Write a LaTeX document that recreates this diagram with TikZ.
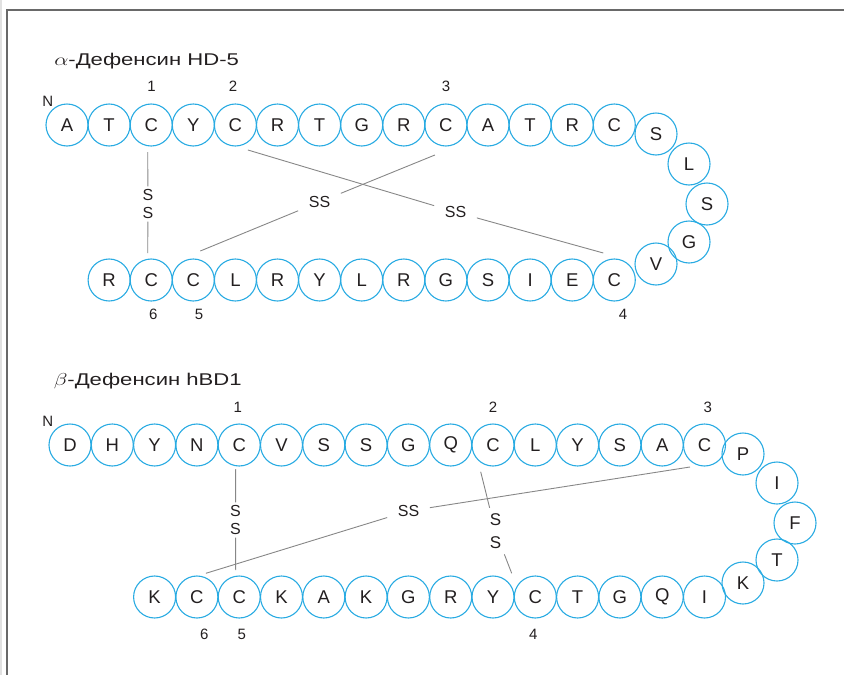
\documentclass[tikz,border=0pt]{standalone}
\usepackage{fontspec}
\setmainfont{Liberation Sans}
\usetikzlibrary{calc}
\definecolor{cyanc}{RGB}{41,171,226}
\definecolor{txt}{RGB}{35,31,32}
\definecolor{bondc}{RGB}{135,135,135}
\definecolor{framec}{RGB}{105,105,105}
\definecolor{stripc}{RGB}{225,225,225}
\begin{document}
\begin{tikzpicture}[x=1pt,y=-1pt,
  res/.style={circle, draw=cyanc, line width=1.1pt, minimum size=42pt, inner sep=0pt,
    font=\fontsize{18.5}{20}\selectfont, text=txt},
  num/.style={font=\fontsize{15}{16}\selectfont, text=txt, inner sep=0pt},
  bond/.style={draw=bondc, line width=0.9pt},
  sslbl/.style={font=\fontsize{16}{18}\selectfont, text=txt, inner xsep=10.5pt, inner ysep=3pt},
  sv/.style={font=\fontsize{16}{18.5}\selectfont, text=txt, align=center, inner xsep=3pt, inner ysep=2.5pt},
  ttl/.style={font=\fontsize{17}{20}\selectfont, text=txt, anchor=base west, inner sep=0pt, xscale=1.3}]
\useasboundingbox (0,0) rectangle (844,675);
% frame
\fill[stripc] (0,0) rectangle (1.8,675);
\draw[framec, line width=1.8pt] (6.8,675) -- (6.8,9.8) -- (844,9.8);

% ---------------- alpha defensin HD-5 ----------------
\node[ttl] (ta) at (54,65.5) {$\alpha$-Дефенсин HD-5};
\foreach \l [count=\i from 0] in {A,T,C,Y,C,R,T,G,R,C,A,T,R,C}
  \node[res] (at\i) at ({67+42.1*\i},125) {\l};
\node[res] (al1) at (656,134) {S};
\node[res] (al2) at (689,164) {L};
\node[res] (al3) at (707,204) {S};
\node[res] (al4) at (689,242) {G};
\node[res] (al5) at (656,264) {V};
\foreach \l [count=\i from 1] in {R,C,C,L,R,Y,L,R,G,S,I,E,C}
  \node[res] (ab\i) at ({67+42.1*\i},280) {\l};

\node[num] (na) at (47.7,101) {N};
\node[num] (na1) at (151.5,86.7) {1};
\node[num] (na2) at (233,86.7) {2};
\node[num] (na3) at (446,86.7) {3};
\node[num] (na6) at (153.3,314.5) {6};
\node[num] (na5) at (199,314.5) {5};
\node[num] (na4) at (623,314.5) {4};

\node[sv] (sa1) at (148,204) {S\\S};
\draw[bond] ($(at2)+(-3.5,27)$) -- (sa1);
\draw[bond] (sa1) -- ($(ab2)+(-3.5,-27)$);

\node[sslbl] (sa2) at (455.5,212) {SS};
\draw[bond] ($(at4)+(12.5,25)$) -- (sa2);
\draw[bond] (sa2) -- ($(ab13)+(-11,-27)$);

\node[sslbl] (sa3) at (319.5,202) {SS};
\draw[bond] ($(at9)+(-11,30)$) -- (sa3);
\draw[bond] (sa3) -- ($(ab3)+(7,-29)$);

% ---------------- beta defensin hBD1 ----------------
\node[ttl] (tb) at (53.5,385) {$\beta$-Дефенсин hBD1};
\foreach \l [count=\i from 0] in {D,H,Y,N,C,V,S,S,G,Q,C,L,Y,S,A,C}
  \node[res] (bt\i) at ({70+42.3*\i},445) {\l};
\node[res] (bl1) at (743,454) {P};
\node[res] (bl2) at (777,483) {I};
\node[res] (bl3) at (795,523) {F};
\node[res] (bl4) at (777,560) {T};
\node[res] (bl5) at (743,583) {K};
\foreach \l [count=\i from 2] in {K,C,C,K,A,K,G,R,Y,C,T,G,Q,I}
  \node[res] (bb\i) at ({70+42.3*\i},597) {\l};

\node[num] (nb) at (47.7,421) {N};
\node[num] (nb1) at (237.7,407) {1};
\node[num] (nb2) at (493,407) {2};
\node[num] (nb3) at (707.7,407) {3};
\node[num] (nb6) at (204.3,634) {6};
\node[num] (nb5) at (241.7,634) {5};
\node[num] (nb4) at (533.3,634) {4};

\node[sv] (sb1) at (235.5,520) {S\\S};
\draw[bond] ($(bt4)+(-3.5,24)$) -- (sb1);
\draw[bond] (sb1) -- ($(bb4)+(-3.5,-27)$);

\node[sv, font=\fontsize{17}{23}\selectfont, inner ysep=6pt] (sb2) at (495.5,531.5) {S\\S};
\draw[bond] ($(bt10)+(-12.3,26.7)$) -- (sb2);
\draw[bond] (sb2) -- ($(bb11)+(-23.6,-23.7)$);

\node[sslbl] (sb3) at (408.5,511) {SS};
\draw[bond] ($(bt15)+(-14.5,22)$) -- (sb3);
\draw[bond] (sb3) -- ($(bb3)+(9,-23.7)$);
\end{tikzpicture}
\end{document}
